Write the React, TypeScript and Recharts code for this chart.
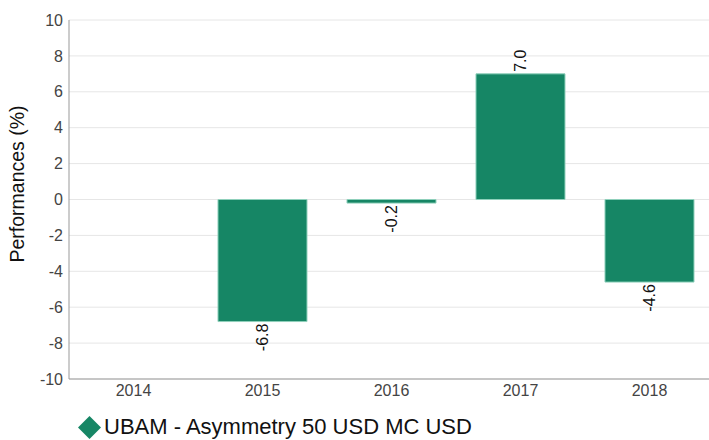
import React from 'react';
import { BarChart, Bar, XAxis, YAxis, CartesianGrid, Legend, LabelList } from 'recharts';

const years = ['2014', '2015', '2016', '2017', '2018'];
const performances: (number | null)[] = [null, -6.8, -0.2, 7.0, -4.6];
const yTicks = [-10, -8, -6, -4, -2, 0, 2, 4, 6, 8, 10];
const seriesName = 'UBAM - Asymmetry 50 USD MC USD';

const GREEN = '#168665';
const FONT = '"Liberation Sans", Arial, sans-serif';

const chartData = years.map((year, i) => ({ year, value: performances[i] }));

const renderValueLabel = (props: any) => {
  const { x, y, width, height, value } = props;
  if (value === null || value === undefined) return null;
  const cx = x + width / 2;
  const positive = value >= 0;
  // height is negative for negative bars in recharts
  const top = Math.min(y, y + height);
  const bottom = Math.max(y, y + height);
  const ay = positive ? top - 2 : bottom + 2;
  return (
    <text
      x={cx}
      y={ay}
      transform={`rotate(-90, ${cx}, ${ay})`}
      textAnchor={positive ? 'start' : 'end'}
      dominantBaseline="central"
      fontSize={16}
      fontFamily={FONT}
      fill="#111"
    >
      {Number(value).toFixed(1)}
    </text>
  );
};

const renderLegend = () => (
  <div
    style={{
      height: 36,
      boxSizing: 'border-box',
      paddingTop: 10,
      display: 'flex',
      alignItems: 'center',
      paddingLeft: 77,
      fontFamily: FONT,
    }}
  >
    <svg width={25} height={25} style={{ marginRight: 2 }}>
      <polygon points="12.5,1 24,12.5 12.5,24 1,12.5" fill={GREEN} />
    </svg>
    <span style={{ fontSize: 22, color: '#111', lineHeight: '26px' }}>{seriesName}</span>
  </div>
);

export default function App() {
  return (
    <div style={{ position: 'absolute', left: 0, top: 0, width: 709, height: 440, overflow: 'hidden', background: '#fff' }}>
      <BarChart
        width={716}
        height={440}
        data={chartData}
        margin={{ top: 20, right: 2, left: 0, bottom: 0 }}
        barCategoryGap="15.5%"
      >
        <CartesianGrid vertical={false} stroke="#e6e6e6" />
        <XAxis
          dataKey="year"
          height={25}
          tickLine={false}
          tickMargin={0}
          axisLine={{ stroke: '#999' }}
          tick={{ fontSize: 16, fill: '#444', fontFamily: FONT }}
        />
        <YAxis
          width={69}
          domain={[-10, 10]}
          ticks={yTicks}
          interval={0}
          tickLine={false}
          tickSize={4}
          tickMargin={2}
          axisLine={{ stroke: '#999' }}
          tick={{ fontSize: 16, fill: '#444', fontFamily: FONT }}
          label={() => (
            <text
              x={17}
              y={184}
              transform="rotate(-90, 17, 184)"
              textAnchor="middle"
              dominantBaseline="central"
              fontSize={19.5}
              fontFamily={FONT}
              fill="#111"
            >
              Performances (%)
            </text>
          )}
        />
        <Legend verticalAlign="bottom" height={36} content={renderLegend} />
        <Bar dataKey="value" name={seriesName} fill={GREEN} stroke="#8fd0bb" strokeWidth={1} isAnimationActive={false}>
          <LabelList dataKey="value" content={renderValueLabel} />
        </Bar>
      </BarChart>
    </div>
  );
}
